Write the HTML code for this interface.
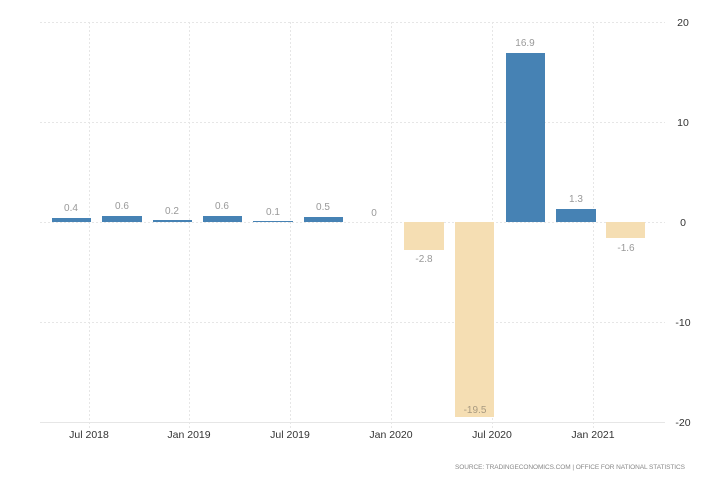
<!DOCTYPE html>
<html><head><style>
body{margin:0;background:#fff}
svg{display:block;font-family:"Liberation Sans",sans-serif}
</style></head><body>
<svg width="728" height="485" viewBox="0 0 728 485">
<rect width="728" height="485" fill="#fff"/>
<g stroke="#e6e6e6" stroke-width="1">
<line x1="40" x2="665" y1="22.5" y2="22.5" stroke-dasharray="2,2"/>
<line x1="40" x2="665" y1="122.5" y2="122.5" stroke-dasharray="2,2"/>
<line x1="40" x2="665" y1="322.5" y2="322.5" stroke-dasharray="2,2"/>
<line x1="40" x2="665" y1="422.5" y2="422.5"/>
<line x1="40" x2="665" y1="222.5" y2="222.5" stroke-dasharray="2,2"/>
<line x1="89.5" x2="89.5" y1="22" y2="428" stroke-dasharray="2,2"/>
<line x1="189.5" x2="189.5" y1="22" y2="428" stroke-dasharray="2,2"/>
<line x1="290.5" x2="290.5" y1="22" y2="428" stroke-dasharray="2,2"/>
<line x1="391.5" x2="391.5" y1="22" y2="428" stroke-dasharray="2,2"/>
<line x1="492.5" x2="492.5" y1="22" y2="428" stroke-dasharray="2,2"/>
<line x1="593.5" x2="593.5" y1="22" y2="428" stroke-dasharray="2,2"/>
</g>
<g fill="#4682b4">
<rect x="52" y="218" width="39" height="4"/>
<rect x="102" y="216" width="40" height="6"/>
<rect x="153" y="220" width="39" height="2"/>
<rect x="203" y="216" width="39" height="6"/>
<rect x="253" y="221" width="40" height="1"/>
<rect x="304" y="217" width="39" height="5"/>
<rect x="506" y="53" width="39" height="169"/>
<rect x="556" y="209" width="40" height="13"/>
</g>
<g fill="#f5deb3">
<rect x="404" y="222" width="40" height="28"/>
<rect x="455" y="222" width="39" height="195"/>
<rect x="606" y="222" width="39" height="16"/>
</g>
<g fill="#999" font-size="10" text-anchor="middle">
<text x="71" y="211">0.4</text>
<text x="122" y="209">0.6</text>
<text x="172" y="214">0.2</text>
<text x="222" y="209">0.6</text>
<text x="273" y="215">0.1</text>
<text x="323" y="210">0.5</text>
<text x="374" y="216">0</text>
<text x="424" y="262">-2.8</text>
<text x="475" y="413" fill="#a89a80">-19.5</text>
<text x="525" y="46">16.9</text>
<text x="576" y="202">1.3</text>
<text x="626" y="251">-1.6</text>
</g>
<g fill="#333" font-size="10.5" text-anchor="middle">
<text x="89" y="438">Jul 2018</text>
<text x="189" y="438">Jan 2019</text>
<text x="290" y="438">Jul 2019</text>
<text x="391" y="438">Jan 2020</text>
<text x="492" y="438">Jul 2020</text>
<text x="593" y="438">Jan 2021</text>
</g>
<g fill="#333" font-size="10.5" text-anchor="middle">
<text x="683" y="26">20</text>
<text x="683" y="126">10</text>
<text x="683" y="226">0</text>
<text x="683" y="326">-10</text>
<text x="683" y="426">-20</text>
</g>
<text x="455" y="469" fill="#888" font-size="6.5" textLength="230" lengthAdjust="spacing">SOURCE: TRADINGECONOMICS.COM | OFFICE FOR NATIONAL STATISTICS</text>
</svg>
</body></html>
